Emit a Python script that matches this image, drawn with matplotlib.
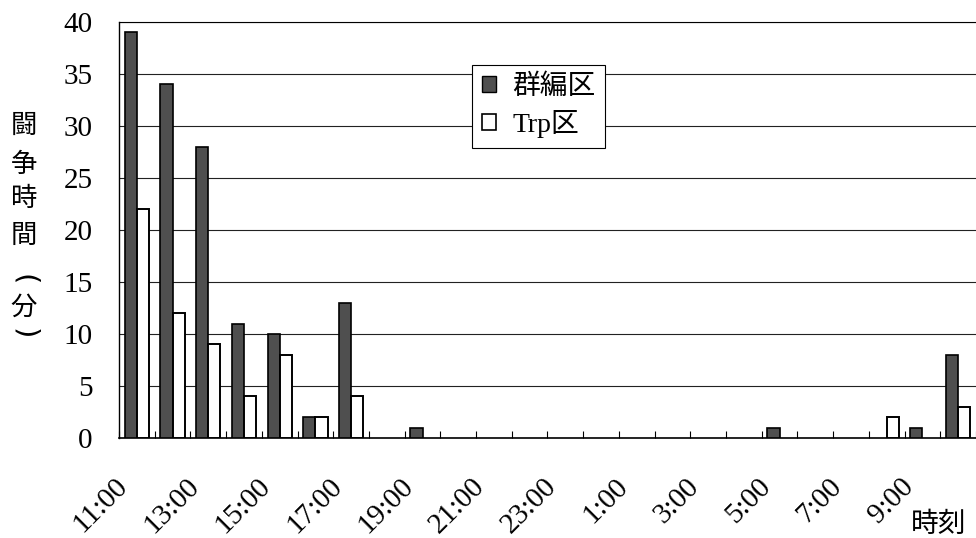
import matplotlib
matplotlib.use("Agg")
import matplotlib.pyplot as plt
import matplotlib.transforms as mtrans
from matplotlib.patches import Patch
import numpy as np

plt.rcParams['font.family'] = ['Liberation Serif', 'Noto Sans CJK JP', 'DejaVu Sans']

hours = [11, 12, 13, 14, 15, 16, 17, 18, 19, 20, 21, 22, 23, 0, 1, 2, 3, 4, 5, 6, 7, 8, 9, 10]
categories = [f"{h}:00" for h in hours]
group_vals = [39, 34, 28, 11, 10, 2, 13, 0, 1, 0, 0, 0, 0, 0, 0, 0, 0, 0, 1, 0, 0, 0, 1, 8]
trp_vals = [22, 12, 9, 4, 8, 2, 4, 0, 0, 0, 0, 0, 0, 0, 0, 0, 0, 0, 0, 0, 0, 2, 0, 3]
series_names = ["群編区", "Trp区"]
y_ticks = [0, 5, 10, 15, 20, 25, 30, 35, 40]

fig = plt.figure(figsize=(9.76, 5.38), dpi=100)
ax = fig.add_axes([119/976, 100/538, 857/976, 416/538])

x = np.arange(len(categories))
g = np.array(group_vals, dtype=float)
t = np.array(trp_vals, dtype=float)
w = 0.34
mg = g > 0
mt = t > 0
ax.bar(x[mg] - w/2, g[mg], w, facecolor='#4f4f4f', edgecolor='black', linewidth=1.2, zorder=3)
ax.bar(x[mt] + w/2, t[mt], w, facecolor='white', edgecolor='black', linewidth=1.4, zorder=3)

ax.set_xlim(-0.5, len(categories) - 0.5)
ax.set_ylim(0, 40)
ax.set_yticks(y_ticks)
ax.set_yticklabels([str(v) for v in y_ticks], fontsize=21)
ax.tick_params(axis='y', length=0, pad=19)

ax.grid(axis='y', color='#222222', linewidth=0.8, zorder=0)

label_pos = x[::2]
ax.set_xticks(label_pos)
ax.set_xticklabels([categories[i] for i in label_pos], fontsize=21, rotation=45,
                   ha='right', va='center', rotation_mode='anchor')
ax.tick_params(axis='x', length=0, pad=32)
offset = mtrans.ScaledTranslation(-13/100, 0, fig.dpi_scale_trans)
for lab in ax.get_xticklabels():
    lab.set_transform(lab.get_transform() + offset)
ax.set_xticks(np.arange(len(categories) + 1) - 0.5, minor=True)
ax.tick_params(axis='x', which='minor', direction='in', length=5, width=0.8)

ax.spines['right'].set_visible(False)
ax.spines['top'].set_linewidth(0.8)
ax.spines['left'].set_linewidth(1.0)
ax.spines['bottom'].set_linewidth(1.2)

ylabel_chars = ["闘", "争", "時", "間"]
ypos = [125, 164, 199, 235]
for ch, yp in zip(ylabel_chars, ypos):
    fig.text(24/976, 1 - yp/538, ch, fontsize=19, family=['Noto Sans CJK JP'],
             ha='center', va='center')
fig.text(24/976, 1 - 280/538, "(", fontsize=21, family=['DejaVu Sans'],
         ha='center', va='center', rotation=-90)
fig.text(24/976, 1 - 307/538, "分", fontsize=19, family=['Noto Sans CJK JP'],
         ha='center', va='center')
fig.text(24/976, 1 - 334/538, ")", fontsize=21, family=['DejaVu Sans'],
         ha='center', va='center', rotation=-90)

fig.text(939/976, 1 - 524/538, "時刻", fontsize=20, family=['Noto Sans CJK JP'],
         ha='center', va='center')

handles = [Patch(facecolor='#4f4f4f', edgecolor='black'),
           Patch(facecolor='white', edgecolor='black', linewidth=1.2)]
leg = ax.legend(handles, series_names, loc='upper left', bbox_to_anchor=(0.412, 0.897),
                fancybox=False, frameon=True, edgecolor='black', framealpha=1,
                handlelength=0.5, handleheight=0.5, handletextpad=0.6,
                borderpad=0.35, labelspacing=0.35, borderaxespad=0,
                prop={'family': ['Liberation Serif', 'Noto Sans CJK JP'], 'size': 20})
leg.get_frame().set_linewidth(0.8)
leg.set_zorder(5)

fig.savefig("out.png", dpi=100)
